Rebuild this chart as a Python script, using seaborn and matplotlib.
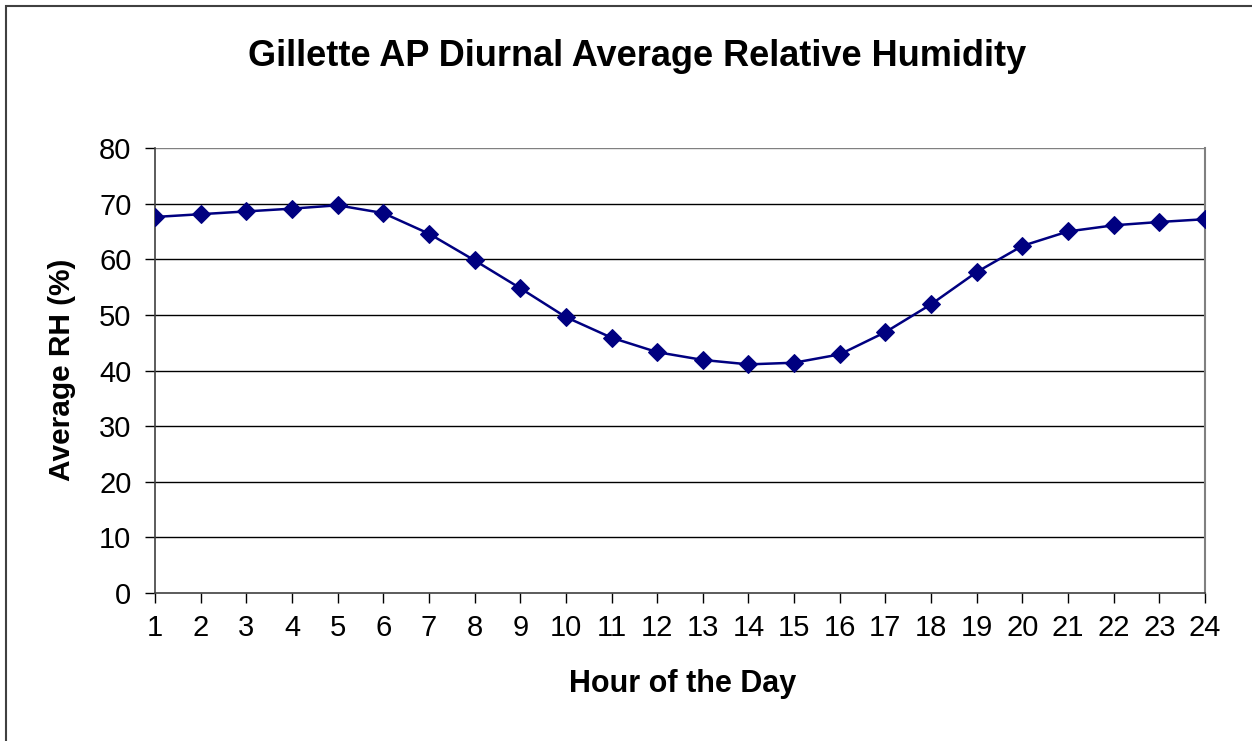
import pandas as pd
import numpy as np
import matplotlib
matplotlib.use('Agg')
import matplotlib.pyplot as plt
import seaborn as sns
from matplotlib.patches import Rectangle

# Data
hours = list(range(1, 25))
avg_rh = [67.6, 68.1, 68.6, 69.1, 69.7, 68.3, 64.6, 59.8, 54.8, 49.6, 45.9, 43.3,
          41.9, 41.1, 41.4, 42.9, 46.9, 51.9, 57.7, 62.4, 65.0, 66.1, 66.7, 67.2]
y_ticks = [0, 10, 20, 30, 40, 50, 60, 70, 80]

df = pd.DataFrame({'hour': hours, 'rh': avg_rh})

sns.set_style('white')
plt.rcParams['font.family'] = ['Liberation Sans', 'DejaVu Sans']
plt.rcParams['text.color'] = 'black'

fig = plt.figure(figsize=(12.52, 7.41), dpi=100)
ax = fig.add_axes([155 / 1252, 1 - 593 / 741, 1050 / 1252, 445 / 741])

# horizontal gridlines
for t in y_ticks[1:]:
    ax.axhline(t, color='black' if t < 80 else '#808080', lw=1.0, zorder=1)

sns.lineplot(data=df, x='hour', y='rh', ax=ax, color='#000080', lw=1.8,
             marker='D', markersize=9, markeredgecolor='#000080', zorder=3)

ax.set_xlim(1, 24)
ax.set_ylim(0, 80)
ax.set_xticks(hours)
ax.set_yticks(y_ticks)
ax.tick_params(axis='both', labelsize=21, colors='black', labelcolor='black',
               length=7, width=1, direction='out', bottom=True, left=True)
ax.tick_params(axis='x', pad=8)
ax.tick_params(axis='y', pad=10)

for side in ['left', 'bottom']:
    ax.spines[side].set_color('#404040')
    ax.spines[side].set_linewidth(1.2)
ax.spines['right'].set_color('#808080')
ax.spines['right'].set_linewidth(1.5)
ax.spines['top'].set_visible(False)

ax.set_xlabel('')
ax.set_ylabel('')
fig.text(683 / 1252, 1 - 684 / 741, 'Hour of the Day', ha='center', va='center',
         fontsize=22, fontweight='bold', color='black')
fig.text(62 / 1252, 1 - 370 / 741, 'Average RH (%)', ha='center', va='center',
         rotation=90, fontsize=21.5, fontweight='bold', color='black')
fig.text(637 / 1252, 1 - 57 / 741, 'Gillette AP Diurnal Average Relative Humidity',
         ha='center', va='center', fontsize=26, fontweight='bold', color='black')

# chart area border
fig.patches.append(Rectangle((6 / 1252, -0.1), 1.2, 1 - 6 / 741 + 0.1,
                             transform=fig.transFigure, fill=False,
                             edgecolor='#404040', lw=1.5))

fig.savefig('out.png', dpi=100)
